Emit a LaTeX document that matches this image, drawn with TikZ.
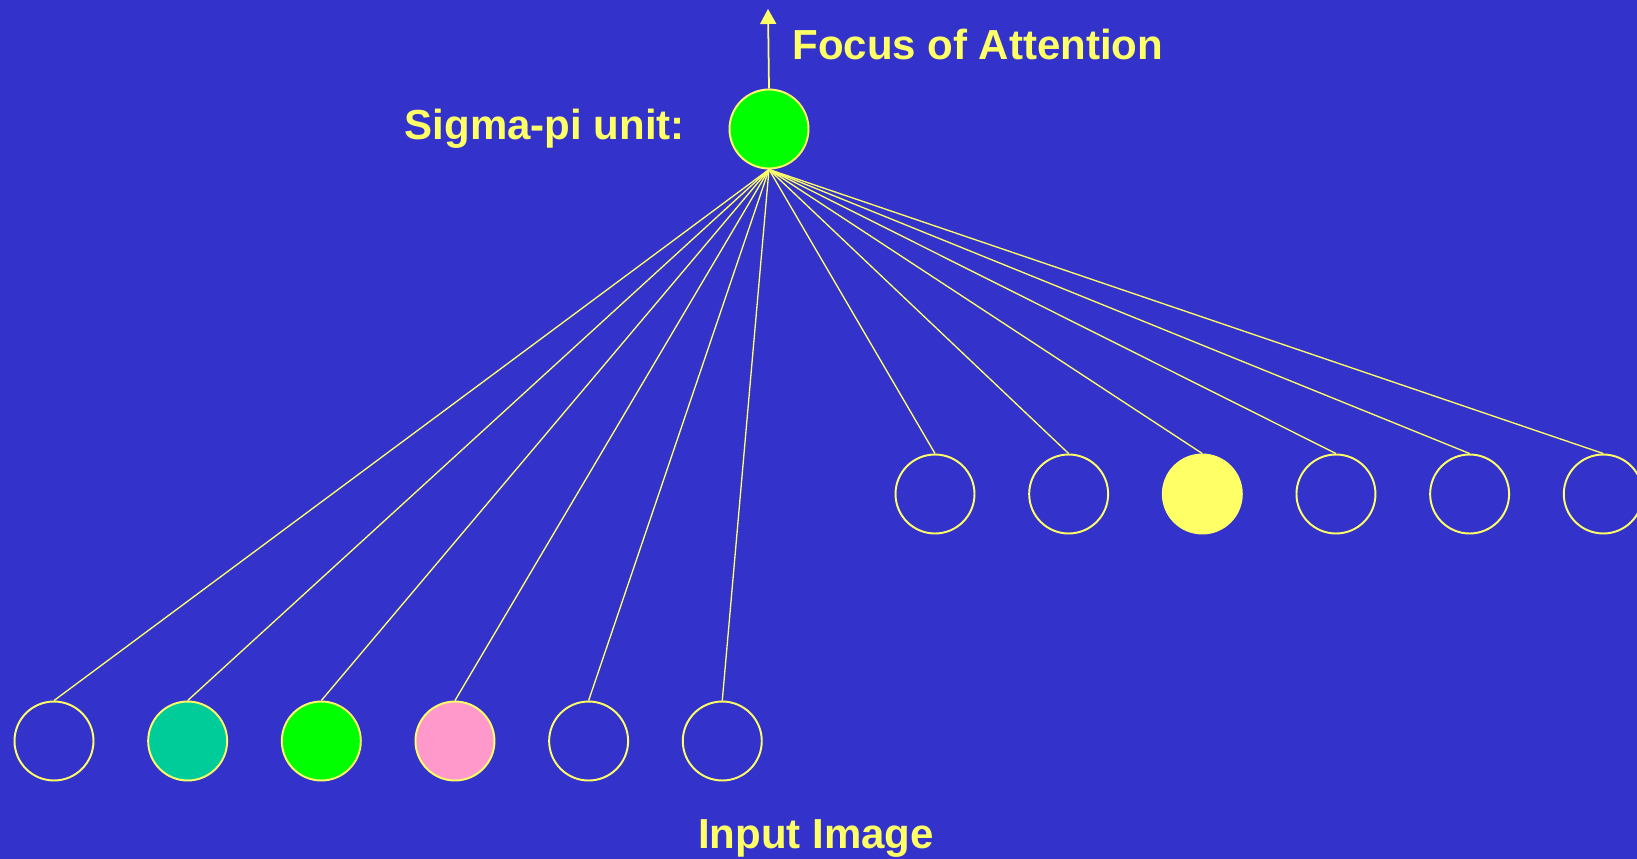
\documentclass[tikz,border=0pt]{standalone}
\usepackage{fontspec}
\setmainfont{Liberation Sans}
\usepackage{xcolor}
\usepackage{tikz}
\usetikzlibrary{arrows.meta,positioning}
\definecolor{slideblue}{RGB}{51,51,204}
\definecolor{hiyellow}{RGB}{255,255,102}
\definecolor{unitgreen}{RGB}{0,255,0}
\definecolor{unitteal}{RGB}{0,204,153}
\definecolor{unitpink}{RGB}{255,153,204}

\begin{document}
\begin{tikzpicture}[x=0.02cm, y=-0.02cm,
  node distance=5mm and 1.055cm,
  unit/.style={circle, draw=hiyellow, line width=1.1pt, inner sep=0pt,
              minimum size=1.58cm},
  lbl/.style={text=hiyellow, inner sep=0pt,
              font=\fontsize{23.9}{28}\selectfont\bfseries},
  wire/.style={draw=hiyellow, line width=0.75pt},
  ar/.style={-{Triangle[length=0.3cm, width=0.32cm]}, draw=hiyellow, line width=1pt}]
\path[use as bounding box] (0,0) rectangle (1637,859);
\clip (0,0) rectangle (1637,859);
\fill[slideblue] (0,0) rectangle (1637,859);
\node[unit, fill=unitgreen] (sigma) at (769,129) {};
\node[lbl, left=0.87cm of sigma] (sigmalbl) {Sigma-pi unit:};
\coordinate (foa) at (768,9);
\node[lbl, anchor=base west] (foalbl) at (792,59) {Focus of Attention};
% input image row
\node[unit] (in1) at (54,741) {};
\node[unit, fill=unitteal, right=of in1] (in2) {};
\node[unit, fill=unitgreen, right=of in2] (in3) {};
\node[unit, fill=unitpink, right=of in3] (in4) {};
\node[unit, right=of in4] (in5) {};
\node[unit, right=of in5] (in6) {};
\node[lbl, anchor=base] (inlbl) at (816,848) {Input Image};
% second row
\node[unit] (r1) at (935,494) {};
\node[unit, right=of r1] (r2) {};
\node[unit, fill=hiyellow, right=of r2] (r3) {};
\node[unit, right=of r3] (r4) {};
\node[unit, right=of r4] (r5) {};
\node[unit, right=of r5] (r6) {};
\draw[ar] (sigma.north)--(foa);
\draw[wire] (sigma.south)--(in1.north); \draw[wire] (sigma.south)--(in2.north);
\draw[wire] (sigma.south)--(in3.north); \draw[wire] (sigma.south)--(in4.north);
\draw[wire] (sigma.south)--(in5.north); \draw[wire] (sigma.south)--(in6.north);
\draw[wire] (sigma.south)--(r1.north); \draw[wire] (sigma.south)--(r2.north);
\draw[wire] (sigma.south)--(r3.north); \draw[wire] (sigma.south)--(r4.north);
\draw[wire] (sigma.south)--(r5.north); \draw[wire] (sigma.south)--(r6.north);
\end{tikzpicture}
\end{document}
